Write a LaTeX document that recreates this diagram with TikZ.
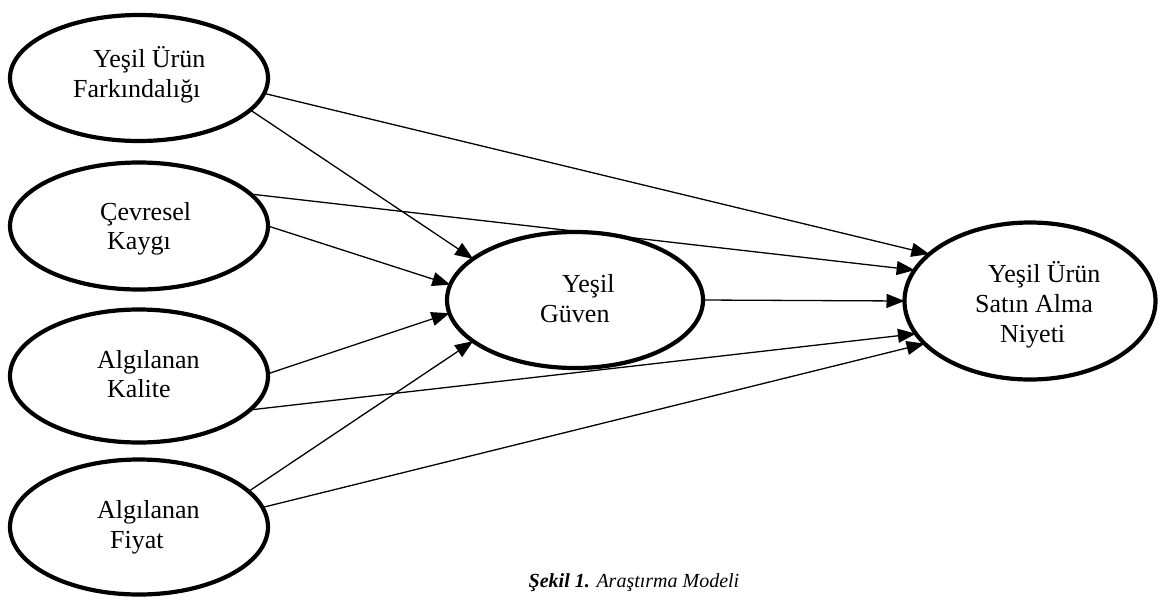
\documentclass[tikz,border=0pt]{standalone}
\usepackage{fontspec}
\setmainfont{Liberation Serif}
\usetikzlibrary{shapes.geometric,arrows.meta}
\begin{document}
\begin{tikzpicture}[x=1pt,y=1pt,
  var/.style={draw,ellipse,line width=4.2pt,inner sep=0pt,outer sep=0pt},
  lbl/.style={anchor=base west,inner sep=0pt,font=\fontsize{26}{30}\selectfont},
  path/.style={line width=1.3pt,-{Triangle[length=18pt,width=14pt]}}]
\useasboundingbox (0,0) rectangle (1159,-598);
\node[var,minimum width=258,minimum height=126] (fa) at (139,-78) {};
\node[var,minimum width=258,minimum height=127] (ck) at (139,-226) {};
\node[var,minimum width=258,minimum height=133] (ak) at (139,-376) {};
\node[var,minimum width=258,minimum height=135] (af) at (139,-527) {};
\node[var,minimum width=256,minimum height=136] (yg) at (575,-300) {};
\node[var,minimum width=251,minimum height=157] (sn) at (1030,-301) {};
% labels
\node[lbl] (fa1) at (93,-67) {Yeşil Ürün};
\node[lbl] (fa2) at (73,-97) {Farkındalığı};
\node[lbl] (ck1) at (100,-220) {Çevresel};
\node[lbl] (ck2) at (107,-249) {Kaygı};
\node[lbl] (ak1) at (97,-368) {Algılanan};
\node[lbl] (ak2) at (107,-397) {Kalite};
\node[lbl] (af1) at (97,-518) {Algılanan};
\node[lbl] (af2) at (110,-548) {Fiyat};
\node[lbl] (yg1) at (562,-292) {Yeşil};
\node[lbl] (yg2) at (540,-322) {Güven};
\node[lbl] (sn1) at (988,-282) {Yeşil Ürün};
\node[lbl] (sn2) at (975,-312) {Satın Alma};
\node[lbl] (sn3) at (1000,-342) {Niyeti};
% paths
\draw[path] (fa.-7.1) -- (sn.155.8);
\draw[path] (fa.-16.1) -- (yg.158.2);
\draw[path] (ck.16.3) -- (sn.165.3);
\draw[path] (ck.0) -- (yg.173.2);
\draw[path] (ak.1.3) -- (yg.186.4);
\draw[path] (ak.-17.7) -- (sn.196.2);
\draw[path] (af.18.7) -- (yg.202.1);
\draw[path] (af.9.5) -- (sn.202.8);
\draw[path] (yg.0) -- (sn.180);
% caption
\node[anchor=base,inner sep=0pt,font=\fontsize{20}{24}\selectfont\itshape] (cap) at (634,-587) {\textbf{Şekil 1.} Araştırma Modeli};
\end{tikzpicture}
\end{document}
